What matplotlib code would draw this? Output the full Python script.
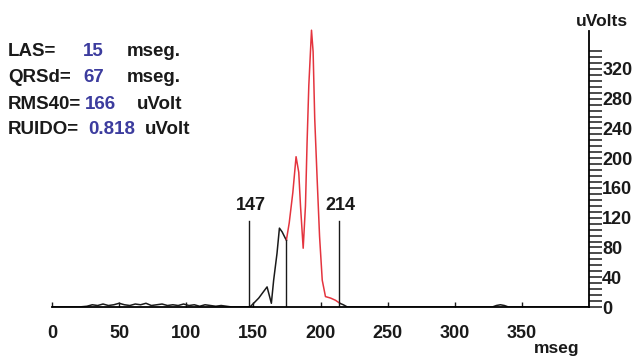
import matplotlib.pyplot as plt

plt.rcParams['font.family'] = ['Liberation Sans', 'DejaVu Sans']
plt.rcParams['font.weight'] = 'bold'

# signal before the QRS end marker (black), in mseg / uVolts
t_pre = [0, 10, 20, 26, 30, 34, 38, 42, 46, 50, 54, 58, 62, 66, 70, 74, 78, 82,
         86, 90, 94, 98, 102, 106, 110, 114, 118, 122, 126, 130, 134, 140, 146,
         148, 150.2, 154, 157.7, 160.2, 163.4, 165.1, 167.6, 169.4, 171.4,
         173.9, 174.6]
v_pre = [0, 0, 0, 1, 3, 2, 4, 2, 3, 5, 3, 2, 4, 3, 5, 2, 3, 4,
         2, 3, 2, 4, 2, 3, 1, 3, 2, 1, 2, 1, 0, 0, 0,
         1, 5, 12, 21, 27, 5, 36, 72, 106, 101,
         92, 90]

# last 40 mseg of the QRS (red)
t_qrs = [174.6, 176.7, 179.4, 181.8, 183.8, 185.1, 187.1, 188.8, 190.0, 191.3,
         193.3, 194.5, 195.7, 197.5, 199.3, 201.3, 203.7, 207.5, 211.2, 214.4]
v_qrs = [90, 113, 154, 202, 181, 136, 79, 136, 221, 298,
         372, 343, 253, 172, 95, 36, 14, 12, 9, 5]

# after the QRS (black)
t_post = [214.4, 217, 220, 260, 300, 328, 331, 334, 337, 340, 400]
v_post = [5, 3, 0, 0, 0, 0, 2, 3, 2, 0, 0]

# markers: onset, start of the 40 ms window, offset
marker_t = [147, 174.6, 214]
marker_top = [115, 90, 115]
marker_labels = ['147', '', '214']

x_ticks = [0, 50, 100, 150, 200, 250, 300, 350]
y_ticks = [0, 40, 80, 120, 160, 200, 240, 280, 320]

# results box
res_names = ['LAS=', 'QRSd=', 'RMS40=', 'RUIDO=']
res_values = ['15', '67', '166', '0.818']
res_units = ['mseg.', 'mseg.', 'uVolt', 'uVolt']

W, H = 635, 357
fig = plt.figure(figsize=(W / 100, H / 100), dpi=100)
x0, x1 = 52, 589
y0, y1 = 307, 25
ax = fig.add_axes([x0 / W, 1 - y0 / H, (x1 - x0) / W, (y0 - y1) / H])
ax.set_xlim(0, 400)
ax.set_ylim(0, 379)

dark = '#1a1a1a'
red = '#e4343e'
ax.plot(t_pre, v_pre, color=dark, lw=1.1)
ax.plot(t_qrs, v_qrs, color=red, lw=1.1)
ax.plot(t_post, v_post, color=dark, lw=1.1)
for t, top, lab in zip(marker_t, marker_top, marker_labels):
    ax.plot([t, t], [0, top], color=dark, lw=1.0)
    if lab:
        ax.text(t + 1, 136, lab, ha='center', va='center', fontsize=13,
                color=dark)

for s in ['top', 'left']:
    ax.spines[s].set_visible(False)
ax.spines['bottom'].set_bounds(0, 400)
ax.spines['right'].set_bounds(0, 371)
ax.spines['bottom'].set_linewidth(1.3)
ax.spines['right'].set_linewidth(1.3)

ax.set_xticks(x_ticks)
ax.set_xticklabels([str(v) for v in x_ticks])
ax.tick_params(axis='x', direction='in', length=3.6, width=1.0, pad=13,
               labelsize=13, colors=dark)

ax.yaxis.tick_right()
ax.set_yticks(y_ticks)
ax.set_yticklabels([str(v) for v in y_ticks])
ax.set_yticks(range(0, 345, 8), minor=True)
ax.tick_params(axis='y', which='both', direction='out', length=9, width=1.1,
               pad=0.5, labelsize=13, colors=dark)

fig.text(602 / W, 1 - 22 / H, 'uVolts', ha='center', va='center',
         fontsize=12.5, color=dark)
fig.text(557 / W, 1 - 349 / H, 'mseg', ha='center', va='center',
         fontsize=12.5, color=dark)

blue = '#3c3c9e'
rows_y = [52, 78, 104, 130]
val_x = [83, 83, 85, 88]
unit_x = [127, 127, 137, 145]
for i in range(4):
    fy = 1 - rows_y[i] / H
    fig.text(8 / W, fy, res_names[i], ha='left', va='center', fontsize=13.5,
             color=dark)
    fig.text(val_x[i] / W, fy, res_values[i], ha='left', va='center',
             fontsize=13.5, color=blue)
    fig.text(unit_x[i] / W, fy, res_units[i], ha='left', va='center',
             fontsize=13.5, color=dark)

fig.savefig('out.png', dpi=100)
